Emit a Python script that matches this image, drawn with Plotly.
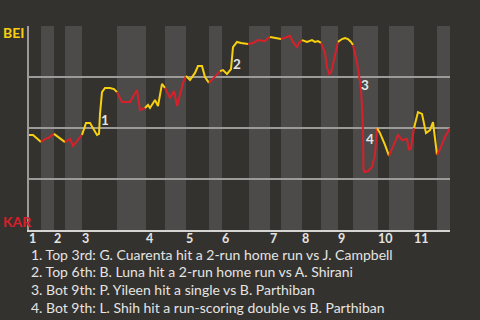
import numpy as np
import plotly.graph_objects as go

# ---- data ----
# game progress (event sequence position) and BEI win probability
progress = [0, 4, 12,
            16, 19, 25,
            31, 36,
            41, 44, 49, 53,
            57, 61, 68, 70, 71, 73, 76, 81, 85, 88,
            93, 101, 105, 108, 111, 116,
            119, 121, 126, 129, 133, 136,
            141, 145, 148, 154, 157,
            161, 166, 169, 173, 176, 180,
            186, 191,
            194, 198, 202, 204, 208, 212, 219,
            224, 229, 236, 239, 241,
            248, 252,
            256, 261, 264, 268, 270, 273,
            278, 283, 286, 289, 292,
            296, 298, 300, 302, 304, 307, 309,
            313, 316, 319, 322, 324,
            326, 328, 330, 332, 333, 334, 334.5, 335.5, 339, 343, 346, 348,
            351, 356, 360,
            364, 369, 373, 378, 380, 382, 385,
            389, 393, 397, 401, 404, 408,
            411, 416, 421]
win_prob = [0.466, 0.466, 0.431,
            0.446, 0.451, 0.471,
            0.451, 0.431,
            0.446, 0.412, 0.441, 0.466,
            0.525, 0.525, 0.466, 0.471, 0.569, 0.676, 0.696, 0.696, 0.691, 0.676,
            0.627, 0.627, 0.657, 0.686, 0.588, 0.598,
            0.613, 0.598, 0.637, 0.608, 0.716, 0.696,
            0.647, 0.681, 0.608, 0.721, 0.755,
            0.735, 0.770, 0.804, 0.804, 0.750, 0.721,
            0.750, 0.779,
            0.784, 0.765, 0.789, 0.897, 0.922, 0.917, 0.912,
            0.917, 0.931, 0.926, 0.941, 0.946,
            0.941, 0.936,
            0.941, 0.951, 0.922, 0.897, 0.917, 0.931,
            0.922, 0.931, 0.922, 0.926, 0.917,
            0.868, 0.799, 0.765, 0.770, 0.814, 0.873, 0.922,
            0.936, 0.941, 0.936, 0.922, 0.907,
            0.868, 0.819, 0.760, 0.686, 0.603, 0.490, 0.294, 0.284, 0.289, 0.309, 0.368, 0.500,
            0.475, 0.417, 0.363,
            0.407, 0.466, 0.441, 0.446, 0.392, 0.402, 0.500,
            0.578, 0.569, 0.475, 0.490, 0.529, 0.368,
            0.397, 0.456, 0.500]

# half-inning start positions (top 1, bot 1, top 2, ...) and game end
half_starts = [0, 12, 25, 36, 53, 88, 117, 136, 157, 180, 193, 220,
               241, 252, 273, 292, 309, 324, 349, 360, 385, 408]
game_end = 421
inning_labels = ["1", "2", "3", "4", "5", "6", "7", "8", "9", "10", "11"]

team_top = "BEI"
team_bot = "KAR"

event_labels = ["1", "2", "3", "4"]
event_progress = [71, 204, 332, 334]
event_win_prob = [0.569, 0.897, 0.686, 0.490]

captions = [
    "1. Top 3rd: G. Cuarenta hit a 2-run home run vs J. Campbell",
    "2. Top 6th: B. Luna hit a 2-run home run vs A. Shirani",
    "3. Bot 9th: P. Yileen hit a single vs B. Parthiban",
    "4. Bot 9th: L. Shih hit a run-scoring double vs B. Parthiban",
]

# ---- style ----
BG = "#34322f"
BAND = "#4c4b49"
YELLOW = "#f7d10f"
RED = "#d8202b"
GRID = "#9d9b99"
TEXT = "#e4e4e2"
FONT = "Lato"

fig = go.Figure()

x = np.array(progress, dtype=float)
y = np.array(win_prob, dtype=float)
starts = np.array(half_starts, dtype=float)
half_idx = np.clip(np.searchsorted(starts, x, side="left") - 1, 0, None)

for h in range(len(half_starts)):
    idx = np.where(half_idx == h)[0]
    if len(idx) == 0:
        continue
    if idx[0] > 0:
        idx = np.concatenate([[idx[0] - 1], idx])
    fig.add_trace(go.Scatter(
        x=x[idx], y=y[idx], mode="lines",
        line=dict(color=YELLOW if h % 2 == 0 else RED, width=2),
        hoverinfo="skip", showlegend=False,
    ))

# shaded bottom halves
bounds = half_starts + [game_end]
shapes = []
for h in range(1, len(half_starts), 2):
    shapes.append(dict(type="rect", xref="x", yref="paper",
                       x0=bounds[h], x1=bounds[h + 1], y0=0, y1=1,
                       fillcolor=BAND, line=dict(width=0), layer="below"))

annotations = []
# inning labels at start of each inning
for lab, xs in zip(inning_labels, half_starts[0::2]):
    annotations.append(dict(x=xs, y=0, xref="x", yref="paper", text=lab,
                            showarrow=False, xanchor="left", yanchor="middle",
                            yshift=-8, xshift=-1, borderpad=0,
                            font=dict(family=FONT, size=12.5, color=TEXT, weight="bold")))

# event markers
ev_shift = [(5, -6), (4, -17), (4, 5), (7, -9)]
for lab, ex, ey, (dx, dy) in zip(event_labels, event_progress, event_win_prob, ev_shift):
    annotations.append(dict(x=ex, y=ey, xref="x", yref="y", text=lab,
                            showarrow=False, xanchor="center", yanchor="middle",
                            xshift=dx, yshift=dy,
                            font=dict(family=FONT, size=13.5, color=TEXT, weight="bold")))

# team labels
annotations.append(dict(x=0, y=0.97, xref="paper", yref="y", text=team_top,
                        showarrow=False, xanchor="left", yanchor="middle", xshift=-27,
                        borderpad=0,
                        font=dict(family=FONT, size=14, color=YELLOW, weight="bold")))
annotations.append(dict(x=0, y=0.044, xref="paper", yref="y", text=team_bot,
                        showarrow=False, xanchor="left", yanchor="middle", xshift=-27,
                        borderpad=0,
                        font=dict(family=FONT, size=14, color=RED, weight="bold")))

# captions, one per line
for i, line in enumerate(captions):
    annotations.append(dict(x=0, y=0, xref="paper", yref="paper",
                            text=line, align="left", borderpad=0,
                            showarrow=False, xanchor="left", yanchor="middle",
                            xshift=1, yshift=-(24 + 17.7 * i),
                            font=dict(family=FONT, size=14, color=TEXT)))

fig.update_layout(
    width=480, height=320,
    margin=dict(l=29, r=30, t=26, b=90),
    paper_bgcolor=BG, plot_bgcolor=BG,
    shapes=shapes, annotations=annotations,
    xaxis=dict(range=[0, game_end], showgrid=False, zeroline=False,
               showline=True, linecolor="#d4d4d2", linewidth=2,
               showticklabels=False, ticks="", fixedrange=True),
    yaxis=dict(range=[0, 1], tickvals=[0.25, 0.5, 0.75, 1.0],
               showgrid=True, gridcolor=GRID, gridwidth=1.5,
               zeroline=False, showline=True, linecolor=GRID, linewidth=1.5,
               showticklabels=False, ticks="", fixedrange=True),
    showlegend=False,
)

fig.write_html("out.html")
